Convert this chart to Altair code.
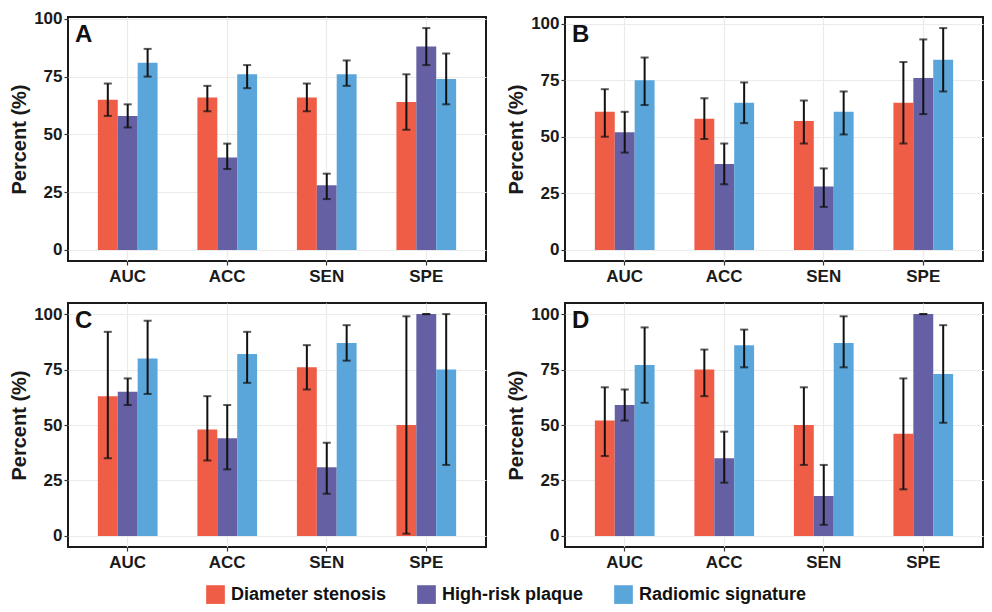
import altair as alt
import pandas as pd

metrics = ["AUC", "ACC", "SEN", "SPE"]
groups = ["Diameter stenosis", "High-risk plaque", "Radiomic signature"]
palette = ["#F05D47", "#6460A3", "#5AA6DB"]
panel_letters = ["A", "B", "C", "D"]

# Panel A
A_ds = [65, 66, 66, 64]
A_ds_lo = [58, 60, 60, 52]
A_ds_hi = [72, 71, 72, 76]
A_hr = [58, 40, 28, 88]
A_hr_lo = [53, 35, 22, 80]
A_hr_hi = [63, 46, 33, 96]
A_rs = [81, 76, 76, 74]
A_rs_lo = [75, 70, 71, 63]
A_rs_hi = [87, 80, 82, 85]

# Panel B
B_ds = [61, 58, 57, 65]
B_ds_lo = [50, 49, 47, 47]
B_ds_hi = [71, 67, 66, 83]
B_hr = [52, 38, 28, 76]
B_hr_lo = [43, 29, 19, 60]
B_hr_hi = [61, 47, 36, 93]
B_rs = [75, 65, 61, 84]
B_rs_lo = [64, 56, 51, 70]
B_rs_hi = [85, 74, 70, 98]

# Panel C
C_ds = [63, 48, 76, 50]
C_ds_lo = [35, 34, 66, 1]
C_ds_hi = [92, 63, 86, 99]
C_hr = [65, 44, 31, 100]
C_hr_lo = [59, 30, 19, 100]
C_hr_hi = [71, 59, 42, 100]
C_rs = [80, 82, 87, 75]
C_rs_lo = [64, 69, 79, 32]
C_rs_hi = [97, 92, 95, 100]

# Panel D
D_ds = [52, 75, 50, 46]
D_ds_lo = [36, 63, 32, 21]
D_ds_hi = [67, 84, 67, 71]
D_hr = [59, 35, 18, 100]
D_hr_lo = [52, 24, 5, 100]
D_hr_hi = [66, 47, 32, 100]
D_rs = [77, 86, 87, 73]
D_rs_lo = [60, 76, 76, 51]
D_rs_hi = [94, 93, 99, 95]

y_ticks = [0, 12.5, 25, 37.5, 50, 62.5, 75, 87.5, 100]

FONT = "Liberation Sans"
W, H = 418, 244


def make_df(series):
    rows = []
    for g, (v, lo, hi) in zip(groups, series):
        for m, a, b, c in zip(metrics, v, lo, hi):
            rows.append(dict(metric=m, group=g, value=a, lo=b, hi=c))
    return pd.DataFrame(rows)


def panel(df, letter):
    ymax = float(df["hi"].max())
    dom = [-0.05 * ymax, ymax * 1.05]
    x = alt.X(
        "metric:N",
        sort=metrics,
        scale=alt.Scale(paddingInner=0.4, paddingOuter=0.3),
        axis=alt.Axis(
            title=None,
            labelAngle=0,
            grid=True,
            gridColor="#EBEBEB",
            gridWidth=1.2,
            bandPosition=0.5,
            labelPadding=3,
        ),
    )
    xo = alt.XOffset("group:N", sort=groups, scale=alt.Scale(paddingInner=0, paddingOuter=0))
    yax = alt.Axis(
        title="Percent (%)",
        values=y_ticks,
        format="d",
        labelExpr="datum.value % 25 === 0 ? datum.label : ''",
        grid=True,
        gridColor={"condition": {"test": "datum.value % 25 === 0", "value": "#EBEBEB"}, "value": "#F3F3F3"},
        gridWidth=1.2,
        tickColor={"condition": {"test": "datum.value % 25 === 0", "value": "#333333"}, "value": "transparent"},
        labelPadding=2,
        titlePadding=4,
    )
    y = alt.Y("value:Q", scale=alt.Scale(domain=dom, nice=False, zero=False), axis=yax)
    color = alt.Color(
        "group:N",
        sort=groups,
        scale=alt.Scale(domain=groups, range=palette),
        legend=alt.Legend(
            title=None,
            orient="none",
            legendX=138,
            legendY=568,
            direction="horizontal",
            symbolType="square",
            symbolSize=350,
            symbolStrokeWidth=0,
            symbolOpacity=1,
            labelFont=FONT,
            labelFontSize=18,
            labelFontWeight="bold",
            labelColor="#111111",
            labelLimit=0,
            labelOffset=6,
            columnPadding=30,
            padding=0,
        ),
    )
    base = alt.Chart(df)
    bars = base.mark_bar().encode(x=x, xOffset=xo, y=y, color=color)
    rules = base.mark_rule(color="#111111", strokeWidth=2).encode(
        x=x, xOffset=xo, y=alt.Y("lo:Q"), y2="hi:Q"
    )
    cap_lo = base.mark_tick(color="#111111", thickness=2, size=8).encode(x=x, xOffset=xo, y=alt.Y("lo:Q"))
    cap_hi = base.mark_tick(color="#111111", thickness=2, size=8).encode(x=x, xOffset=xo, y=alt.Y("hi:Q"))
    lab = alt.Chart(pd.DataFrame({"t": [letter]})).mark_text(
        font=FONT, fontSize=24, fontWeight="bold", align="left", baseline="middle", color="#111111"
    ).encode(text="t:N", x=alt.value(7), y=alt.value(18))
    return alt.layer(bars, rules, cap_lo, cap_hi, lab).properties(width=W, height=H)


data = {
    "A": make_df([(A_ds, A_ds_lo, A_ds_hi), (A_hr, A_hr_lo, A_hr_hi), (A_rs, A_rs_lo, A_rs_hi)]),
    "B": make_df([(B_ds, B_ds_lo, B_ds_hi), (B_hr, B_hr_lo, B_hr_hi), (B_rs, B_rs_lo, B_rs_hi)]),
    "C": make_df([(C_ds, C_ds_lo, C_ds_hi), (C_hr, C_hr_lo, C_hr_hi), (C_rs, C_rs_lo, C_rs_hi)]),
    "D": make_df([(D_ds, D_ds_lo, D_ds_hi), (D_hr, D_hr_lo, D_hr_hi), (D_rs, D_rs_lo, D_rs_hi)]),
}

charts = [panel(data[k], k) for k in panel_letters]

chart = (
    alt.concat(*charts, columns=2, spacing={"row": 42, "column": 79}, bounds="flush")
    .properties(padding=0)
    .configure_view(stroke="#1a1a1a", strokeWidth=2)
    .configure_axis(
        labelFont=FONT,
        labelFontSize=17,
        labelFontWeight="bold",
        labelColor="#1a1a1a",
        titleFont=FONT,
        titleFontSize=20,
        titleFontWeight="bold",
        titleColor="#1a1a1a",
        tickSize=4,
        tickColor="#333333",
        tickWidth=1.2,
        domain=False,
    )
)

chart.save("out.html", embed_options={"renderer": "svg", "actions": False})
